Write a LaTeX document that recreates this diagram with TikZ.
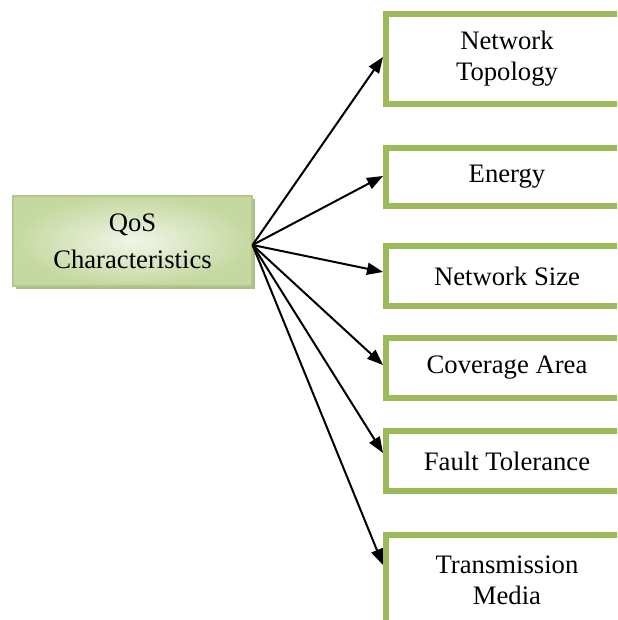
\documentclass[tikz,border=0pt]{standalone}
\usepackage{fontspec}
\setmainfont{Liberation Serif}
\usepackage{tikz}
\usetikzlibrary{shapes,arrows.meta,positioning,shadows,calc}
\usepackage{xcolor}
\definecolor{leafgreen}{HTML}{9BBB59}
\definecolor{rootedge}{HTML}{B3C98A}
\definecolor{rootlight}{HTML}{F1F5E8}
\definecolor{rootdark}{HTML}{C5D89F}
\definecolor{rootshadow}{HTML}{A3B382}

\begin{document}
\begin{tikzpicture}[
        x=0.75pt, y=-0.75pt,
        node distance=20pt,
        >={Triangle[length=12pt,width=9pt]},
        item/.style={
            rectangle,
            draw=leafgreen,
            line width=4.5pt,
            fill=white,
            minimum width=181.5pt,
            minimum height=45pt,
            align=center,
            font=\fontsize{20pt}{23.25pt}\selectfont
        },
        root/.style={
            rectangle,
            draw=rootedge,
            line width=0.8pt,
            inner color=rootlight,
            outer color=rootdark,
            minimum width=179.25pt,
            minimum height=67.5pt,
            align=center,
            font=\fontsize{20pt}{27.75pt}\selectfont,
            drop shadow={fill=rootshadow, opacity=0.9, shadow xshift=2.5pt, shadow yshift=-2.5pt}
        },
        line/.style={
            draw,
            ->,
            line width=1.5pt,
            color=black
        }
    ]

    % Frame
    \path [use as bounding box, clip] (0,0) rectangle (617,620);

    % Nodes
    \node [root] (qos) at (132.5,241) {QoS\\Characteristics};
    \node [item, minimum height=67.5pt] (topo) at (507,59) {Network\\Topology};
    \node [item, minimum height=43.5pt, below=28.5pt of topo] (energy) {Energy};
    \node [item, below=25.5pt of energy] (size) {Network Size};
    \node [item, below=19.5pt of size] (area) {Coverage Area};
    \node [item, below=20.25pt of area] (fault) {Fault Tolerance};
    \node [item, minimum height=67.5pt, below=28.5pt of fault] (media) {Transmission\\Media};

    % Connections
    \coordinate (hub) at ([yshift=-3pt]qos.east);
    \path [line] (hub) -- ([yshift=1.5pt]topo.west);
    \path [line] (hub) -- ([yshift=0.75pt]energy.west);
    \path [line] (hub) -- ([yshift=3pt]size.west);
    \path [line] (hub) -- ([yshift=2.25pt]area.west);
    \path [line] (hub) -- ([yshift=6pt]fault.west);
    \path [line] (hub) -- ([yshift=11.25pt]media.west);

    \end{tikzpicture}
\end{document}
